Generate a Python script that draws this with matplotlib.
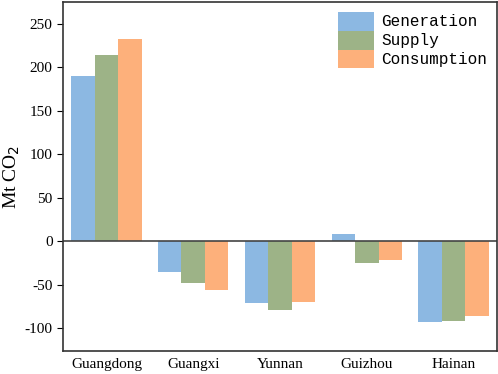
import numpy as np
import matplotlib.pyplot as plt

provinces = ["Guangdong", "Guangxi", "Yunnan", "Guizhou", "Hainan"]
generation = [190, -35, -71, 8, -93]
supply = [214, -48, -79, -25, -92]
consumption = [233, -56, -70, -22, -86]

series = [("Generation", generation, "#8cb8e2"),
          ("Supply", supply, "#9db387"),
          ("Consumption", consumption, "#fdb07b")]

plt.rcParams["font.family"] = ["Liberation Serif", "DejaVu Serif"]
plt.rcParams["axes.unicode_minus"] = False

fig = plt.figure(figsize=(4.98, 3.74), dpi=100)
ax = fig.add_axes([63 / 498, 23 / 374, 434 / 498, 349 / 374])

x = np.arange(len(provinces))
w = 0.27
for i, (name, vals, col) in enumerate(series):
    ax.bar(x + (i - 1) * w, vals, w, color=col, label=name)

ax.axhline(0, color="#444444", lw=1.2)
ax.set_xlim(-0.5, 4.5)
ax.set_ylim(-126, 275)
ax.set_yticks([-100, -50, 0, 50, 100, 150, 200, 250])
ax.set_xticks(x)
ax.set_xticklabels(provinces)
ax.tick_params(axis="x", length=0, labelsize=11, pad=5)
ax.tick_params(axis="y", labelsize=11, direction="out", length=4)
ax.set_ylabel("Mt CO$_2$", fontsize=14)
ax.yaxis.set_label_coords(-0.095, 0.5)
for s in ax.spines.values():
    s.set_color("#333333")
    s.set_linewidth(1.2)

ax.legend(frameon=False, loc="upper right", prop={"family": "Liberation Mono", "size": 11.5},
          handlelength=2.2, handleheight=1.45, labelspacing=0.0, handletextpad=0.5,
          borderaxespad=0.2)

fig.savefig("out.png", dpi=100)
